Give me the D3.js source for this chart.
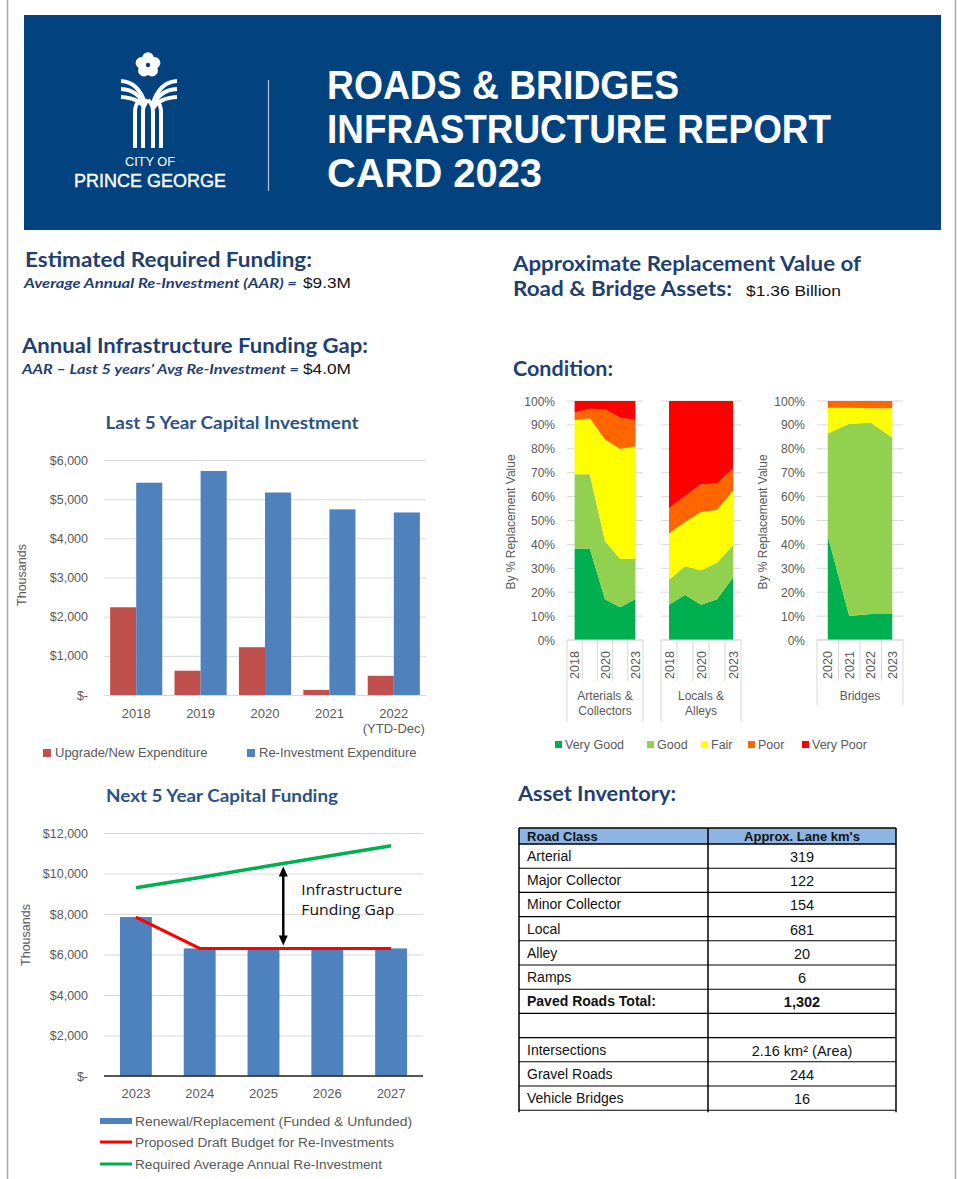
<!DOCTYPE html>
<html><head><meta charset="utf-8">
<script src="https://cdn.jsdelivr.net/npm/d3@7"></script>
<style>
body{margin:0;background:#fff;}
svg{display:block;font-family:"Liberation Sans",Arial,sans-serif;}
</style></head><body>
<svg id="page" width="957" height="1179"></svg>
<script>
// ---------- DATA ----------
const titleLines = ["ROADS & BRIDGES", "INFRASTRUCTURE REPORT", "CARD 2023"];
const logoLines = ["CITY OF", "PRINCE GEORGE"];

const capYears = ["2018", "2019", "2020", "2021", "2022"];
const capYearSub = ["", "", "", "", "(YTD-Dec)"];
const upgradeNew = [2240, 620, 1220, 130, 490];
const reInvestment = [5420, 5720, 5170, 4740, 4660];
const capTicks = [0, 1000, 2000, 3000, 4000, 5000, 6000];
const capSeries = ["Upgrade/New Expenditure", "Re-Investment Expenditure"];

const fundYears = ["2023", "2024", "2025", "2026", "2027"];
const renewal = [7850, 6300, 6300, 6300, 6300];
const draftBudget = [7850, 6300, 6300, 6300, 6300];
const requiredAAR = [9300, 9800, 10330, 10850, 11370];
const fundTicks = [0, 2000, 4000, 6000, 8000, 10000, 12000];
const fundSeries = ["Renewal/Replacement (Funded & Unfunded)", "Proposed Draft Budget for Re-Investments", "Required Average Annual Re-Investment"];
const gapLabel = ["Infrastructure", "Funding Gap"];

const condLevels = ["Very Good", "Good", "Fair", "Poor", "Very Poor"];
const pctTicks = [0, 10, 20, 30, 40, 50, 60, 70, 80, 90, 100];

const artYears = ["2018", "2019", "2020", "2021", "2023"];
const artVeryGood = [38.3, 38.3, 17.1, 13.7, 17.2];
const artGood = [31.1, 31.1, 24.3, 20.2, 16.9];
const artFair = [22.5, 23.4, 42.5, 46.0, 47.0];
const artPoor = [3.2, 4.0, 12.6, 13.1, 11.0];
const artVeryPoor = [4.9, 3.2, 3.5, 7.0, 7.9];

const locYears = ["2018", "2019", "2020", "2021", "2023"];
const locVeryGood = [14.7, 18.9, 14.7, 17.1, 26.2];
const locGood = [10.5, 12.0, 14.5, 15.2, 13.4];
const locFair = [19.4, 18.5, 24.4, 22.1, 22.8];
const locPoor = [10.5, 10.9, 11.6, 11.1, 9.4];
const locVeryPoor = [44.9, 39.7, 34.8, 34.5, 28.2];

const brYears = ["2020", "2021", "2022", "2023"];
const brVeryGood = [43.5, 10.0, 10.9, 10.9];
const brGood = [42.9, 80.5, 80.0, 73.8];
const brFair = [10.8, 6.7, 6.1, 12.3];
const brPoor = [2.8, 2.8, 3.0, 3.0];
const brVeryPoor = [0, 0, 0, 0];

const tableHeader = ["Road Class", "Approx. Lane km's"];
const roadClass = ["Arterial", "Major Collector", "Minor Collector", "Local", "Alley", "Ramps", "Paved Roads Total:", "", "Intersections", "Gravel Roads", "Vehicle Bridges"];
const laneKm = ["319", "122", "154", "681", "20", "6", "1,302", "", "2.16 km² (Area)", "244", "16"];

// ---------- STYLE ----------
const NAVY = "#02437F";
const HEAD = "#1F3F73";
const GRAY = "#595959";
const GRID = "#D9D9D9";
const condColors = ["#00B050", "#92D050", "#FFFF00", "#FF6600", "#FF0000"];
const HFONT = "Lato, 'Open Sans', sans-serif";
const NARROW = "'Liberation Sans Narrow', 'Liberation Sans', Arial, sans-serif";

const svg = d3.select("#page");

// page borders
svg.append("line").attr("x1", 7.5).attr("x2", 7.5).attr("y1", 0).attr("y2", 1179).attr("stroke", "#A6A6A6").attr("stroke-width", 1.5);
svg.append("line").attr("x1", 955.5).attr("x2", 955.5).attr("y1", 0).attr("y2", 1179).attr("stroke", "#A6A6A6").attr("stroke-width", 1.5);

// ---------- HEADER ----------
svg.append("rect").attr("x", 24).attr("y", 15).attr("width", 917).attr("height", 215).attr("fill", NAVY);
const titleBase = [99, 143, 187];
const titleW = [352, 504, 215];
titleLines.forEach((t, i) => {
  svg.append("text").attr("x", 327).attr("y", titleBase[i]).text(t)
    .attr("font-family", NARROW).attr("font-weight", "bold").attr("font-size", 41)
    .attr("fill", "#fff").attr("textLength", titleW[i]).attr("lengthAdjust", "spacingAndGlyphs");
});
svg.append("line").attr("x1", 268.5).attr("x2", 268.5).attr("y1", 80).attr("y2", 191).attr("stroke", "#B8C4D6").attr("stroke-width", 1.2);

// logo
const logo = svg.append("g").attr("fill", "#fff").attr("stroke", "none");
for (let k = 0; k < 5; k++) {
  const a = -Math.PI / 2 + k * 2 * Math.PI / 5;
  logo.append("circle").attr("cx", 148 + 6.8 * Math.cos(a)).attr("cy", 65 + 6.8 * Math.sin(a)).attr("r", 5.9);
}
logo.append("circle").attr("cx", 148).attr("cy", 65).attr("r", 2.2).attr("fill", NAVY);
const arch = svg.append("g").attr("fill", "none").attr("stroke", "#fff").attr("stroke-width", 4).attr("stroke-linecap", "butt");
[0, 1, 2].forEach(k => {
  const y0 = 81 + k * 8;
  arch.append("path").attr("d", `M${121},${y0} Q${139},${y0 + 1} ${145.5 - k * 0.5},${105 + k * 1.5}`);
  arch.append("path").attr("d", `M${177},${y0} Q${159},${y0 + 1} ${152.5 + k * 0.5},${105 + k * 1.5}`);
});
[135, 143, 153, 161].forEach((x, i) => {
  arch.append("path").attr("d", `M${x},${148} L${x},${112} Q${x},${104} ${i < 2 ? x + 5 : x - 5},${100}`).attr("stroke-width", 4);
});
svg.append("text").attr("x", 150).attr("y", 166).attr("text-anchor", "middle").text(logoLines[0])
  .attr("font-family", NARROW).attr("font-size", 12).attr("fill", "#fff").attr("textLength", 50).attr("lengthAdjust", "spacingAndGlyphs");
svg.append("text").attr("x", 150).attr("y", 187).attr("text-anchor", "middle").text(logoLines[1])
  .attr("font-family", NARROW).attr("font-size", 19).attr("fill", "#fff").attr("stroke", "#fff").attr("stroke-width", 0.4)
  .attr("textLength", 152).attr("lengthAdjust", "spacingAndGlyphs");

// ---------- HEADINGS ----------
function heading(x, y, t, w, size) {
  return svg.append("text").attr("x", x).attr("y", y).text(t)
    .attr("font-family", HFONT).attr("font-weight", "bold").attr("font-size", size || 20)
    .attr("fill", HEAD).attr("textLength", w).attr("lengthAdjust", "spacingAndGlyphs");
}
function subItalic(x, y, t, w) {
  return svg.append("text").attr("x", x).attr("y", y).text(t)
    .attr("font-family", HFONT).attr("font-weight", "bold").attr("font-style", "italic").attr("font-size", 14)
    .attr("fill", HEAD).attr("textLength", w).attr("lengthAdjust", "spacingAndGlyphs");
}
function plain(x, y, t, w, size) {
  return svg.append("text").attr("x", x).attr("y", y).text(t)
    .attr("font-family", "'Liberation Sans', Arial, sans-serif").attr("font-size", size || 14.5)
    .attr("fill", "#111").attr("textLength", w).attr("lengthAdjust", "spacingAndGlyphs");
}
heading(25, 267, "Estimated Required Funding:", 287);
subItalic(24, 288, "Average Annual Re-Investment (AAR) =", 273);
plain(303, 288, "$9.3M", 48);
heading(22, 353, "Annual Infrastructure Funding Gap:", 346);
subItalic(22, 374, "AAR – Last 5 years’ Avg Re-Investment =", 277);
plain(303, 374, "$4.0M", 48);
heading(513, 271, "Approximate Replacement Value of", 348);
heading(513, 296, "Road & Bridge Assets:", 219);
plain(746, 296, "$1.36 Billion", 95, 14);
heading(513, 376, "Condition:", 100);
heading(518, 801, "Asset Inventory:", 158);

// ---------- helpers ----------
const dollar = v => v === 0 ? "$-" : "$" + d3.format(",")(v);
function axisText(sel) {
  sel.attr("font-family", "'Liberation Sans', Arial, sans-serif").attr("font-size", 12.5).attr("fill", GRAY);
}

// ---------- CHART 1: Last 5 Year Capital Investment ----------
{
  const g = svg.append("g");
  const x = d3.scaleBand().domain(capYears).range([104, 426]).paddingInner(0.19).paddingOuter(0.095);
  const xs = d3.scaleBand().domain([0, 1]).range([0, x.bandwidth()]);
  const y = d3.scaleLinear().domain([0, 6000]).range([695, 460]);
  const ax = g.append("g").attr("transform", "translate(104,0)")
    .call(d3.axisLeft(y).tickValues(capTicks).tickSize(-322).tickPadding(16).tickFormat(dollar));
  ax.select(".domain").remove();
  ax.selectAll("line").attr("stroke", GRID);
  ax.selectAll("text").call(axisText);
  const cols = ["#C0504D", "#4F81BD"];
  [upgradeNew, reInvestment].forEach((arr, si) => {
    g.selectAll(null).data(capYears).join("rect")
      .attr("x", d => x(d) + xs(si)).attr("width", xs.bandwidth())
      .attr("y", (d, i) => y(arr[i])).attr("height", (d, i) => y(0) - y(arr[i]))
      .attr("fill", cols[si]);
  });
  g.selectAll(null).data(capYears).join("text")
    .attr("x", d => x(d) + x.bandwidth() / 2).attr("y", 718).attr("text-anchor", "middle").text(d => d)
    .call(axisText).attr("font-size", 13);
  g.selectAll(null).data(capYearSub).join("text")
    .attr("x", (d, i) => x(capYears[i]) + x.bandwidth() / 2).attr("y", 733).attr("text-anchor", "middle").text(d => d)
    .call(axisText).attr("font-size", 13);
  g.append("text").attr("transform", "translate(26,575) rotate(-90)").attr("text-anchor", "middle").text("Thousands").call(axisText);
  g.append("text").attr("x", 232).attr("y", 429).attr("text-anchor", "middle").text("Last 5 Year Capital Investment")
    .attr("font-family", HFONT).attr("font-weight", "bold").attr("font-size", 16.5).attr("fill", "#2A5286")
    .attr("textLength", 253).attr("lengthAdjust", "spacingAndGlyphs");
  const lx = [43, 247];
  capSeries.forEach((s, i) => {
    g.append("rect").attr("x", lx[i]).attr("y", 749).attr("width", 8).attr("height", 8).attr("fill", cols[i]);
    g.append("text").attr("x", lx[i] + 12).attr("y", 757).text(s).call(axisText).attr("font-size", 13);
  });
}

// ---------- CHART 2: Next 5 Year Capital Funding ----------
{
  const g = svg.append("g");
  const x = d3.scaleBand().domain(fundYears).range([104, 423]).paddingInner(0.5).paddingOuter(0.25);
  const y = d3.scaleLinear().domain([0, 12000]).range([1076, 833]);
  const ax = g.append("g").attr("transform", "translate(104,0)")
    .call(d3.axisLeft(y).tickValues(fundTicks).tickSize(-319).tickPadding(16).tickFormat(dollar));
  ax.select(".domain").remove();
  ax.selectAll("line").attr("stroke", GRID);
  ax.selectAll("text").call(axisText);
  g.selectAll(null).data(fundYears).join("rect")
    .attr("x", d => x(d)).attr("width", x.bandwidth())
    .attr("y", (d, i) => y(renewal[i])).attr("height", (d, i) => y(0) - y(renewal[i]))
    .attr("fill", "#4F81BD");
  g.append("line").attr("x1", 104).attr("x2", 423).attr("y1", y(0)).attr("y2", y(0)).attr("stroke", "#262626").attr("stroke-width", 1.5);
  const cx = (d) => x(d) + x.bandwidth() / 2;
  const line = d3.line().x((d, i) => cx(fundYears[i])).y(d => y(d));
  g.append("path").attr("d", line(draftBudget)).attr("fill", "none").attr("stroke", "#FF0000").attr("stroke-width", 3);
  g.append("path").attr("d", line(requiredAAR)).attr("fill", "none").attr("stroke", "#00B050").attr("stroke-width", 3.5);
  g.selectAll(null).data(fundYears).join("text")
    .attr("x", d => cx(d)).attr("y", 1098).attr("text-anchor", "middle").text(d => d)
    .call(axisText).attr("font-size", 13);
  g.append("text").attr("transform", "translate(30,935) rotate(-90)").attr("text-anchor", "middle").text("Thousands").call(axisText);
  g.append("text").attr("x", 222).attr("y", 802).attr("text-anchor", "middle").text("Next 5 Year Capital Funding")
    .attr("font-family", HFONT).attr("font-weight", "bold").attr("font-size", 16.5).attr("fill", "#2A5286")
    .attr("textLength", 232).attr("lengthAdjust", "spacingAndGlyphs");
  // gap arrow
  const step = x.step();
  const ax2 = cx("2025") + 0.31 * step;
  const topV = requiredAAR[2] + (requiredAAR[3] - requiredAAR[2]) * 0.31;
  const yt = y(topV) + 3, yb = y(draftBudget[2]) - 3;
  g.append("line").attr("x1", ax2).attr("x2", ax2).attr("y1", yt + 8).attr("y2", yb - 8).attr("stroke", "#000").attr("stroke-width", 2.5);
  g.append("path").attr("d", `M${ax2},${yt} L${ax2 - 4.5},${yt + 10} L${ax2 + 4.5},${yt + 10}Z`).attr("fill", "#000");
  g.append("path").attr("d", `M${ax2},${yb} L${ax2 - 4.5},${yb - 10} L${ax2 + 4.5},${yb - 10}Z`).attr("fill", "#000");
  gapLabel.forEach((t, i) => {
    g.append("text").attr("x", ax2 + 18).attr("y", 895 + i * 20).text(t)
      .attr("font-family", "'Open Sans', 'Liberation Sans', sans-serif").attr("font-size", 15).attr("fill", "#111")
      .attr("textLength", i === 0 ? 101 : 93).attr("lengthAdjust", "spacingAndGlyphs");
  });
  // legend
  const ly = [1121, 1142, 1164];
  g.append("rect").attr("x", 100).attr("y", 1118).attr("width", 32).attr("height", 6).attr("fill", "#4F81BD");
  g.append("line").attr("x1", 100).attr("x2", 132).attr("y1", ly[1]).attr("y2", ly[1]).attr("stroke", "#FF0000").attr("stroke-width", 3);
  g.append("line").attr("x1", 100).attr("x2", 132).attr("y1", ly[2]).attr("y2", ly[2]).attr("stroke", "#00B050").attr("stroke-width", 3);
  const lw = [277, 259, 247];
  fundSeries.forEach((s, i) => {
    g.append("text").attr("x", 135).attr("y", ly[i] + 5).text(s).call(axisText).attr("font-size", 12.5)
      .attr("textLength", lw[i]).attr("lengthAdjust", "spacingAndGlyphs");
  });
}

// ---------- CONDITION CHARTS ----------
const yC = d3.scaleLinear().domain([0, 100]).range([640, 401]);
function condPanel(cats, series, range, labelIdx, groupLabel, outerBottom, yLabelX) {
  const g = svg.append("g");
  const x = d3.scaleBand().domain(cats).range(range);
  const bw = x.bandwidth();
  g.selectAll(null).data(pctTicks).join("line")
    .attr("x1", range[0]).attr("x2", range[1]).attr("y1", d => yC(d)).attr("y2", d => yC(d)).attr("stroke", GRID);
  if (yLabelX) {
    g.selectAll(null).data(pctTicks).join("text")
      .attr("x", yLabelX).attr("y", d => yC(d) + 4.5).attr("text-anchor", "end").text(d => d + "%")
      .call(axisText).attr("font-size", 12);
  }
  const rows = cats.map((c, i) => {
    const r = { cat: c };
    condLevels.forEach((k, j) => r[k] = series[j][i]);
    return r;
  });
  const stacked = d3.stack().keys(condLevels)(rows);
  const area = d3.area().x(d => x(d.data.cat) + bw / 2).y0(d => yC(d[0])).y1(d => yC(d[1]));
  g.selectAll(null).data(stacked).join("path").attr("d", area).attr("fill", (d, i) => condColors[i]);
  const bounds = cats.map(c => x(c)).concat([range[1]]);
  g.selectAll(null).data(bounds).join("line")
    .attr("x1", d => d).attr("x2", d => d).attr("y1", 640)
    .attr("y2", (d, i) => (i === 0 || i === bounds.length - 1) ? outerBottom : 681)
    .attr("stroke", GRID);
  g.append("line").attr("x1", range[0]).attr("x2", range[1]).attr("y1", 640).attr("y2", 640).attr("stroke", GRID);
  g.selectAll(null).data(cats.filter((c, i) => labelIdx.includes(i))).join("text")
    .attr("transform", d => `translate(${x(d) + bw / 2},665) rotate(-90)`).attr("dy", "0.36em")
    .attr("text-anchor", "middle").text(d => d).call(axisText).attr("font-size", 12.5);
  groupLabel.forEach((t, i) => {
    g.append("text").attr("x", (range[0] + range[1]) / 2).attr("y", 700 + i * 15).attr("text-anchor", "middle")
      .text(t).call(axisText).attr("font-size", 12);
  });
}
condPanel(artYears, [artVeryGood, artGood, artFair, artPoor, artVeryPoor], [567, 643], [0, 2, 4], ["Arterials &", "Collectors"], 722, 555);
condPanel(locYears, [locVeryGood, locGood, locFair, locPoor, locVeryPoor], [661, 741], [0, 2, 4], ["Locals &", "Alleys"], 722, null);
condPanel(brYears, [brVeryGood, brGood, brFair, brPoor, brVeryPoor], [817, 903], [0, 1, 2, 3], ["Bridges"], 705, 805);
[515, 767].forEach(xx => {
  svg.append("text").attr("transform", `translate(${xx},522) rotate(-90)`).attr("text-anchor", "middle")
    .text("By % Replacement Value").call(axisText).attr("font-size", 12);
});
{
  const lx = [555, 647, 701, 748, 802];
  condLevels.forEach((k, i) => {
    svg.append("rect").attr("x", lx[i]).attr("y", 741).attr("width", 7).attr("height", 7).attr("fill", condColors[i]);
    svg.append("text").attr("x", lx[i] + 10).attr("y", 749).text(k).call(axisText).attr("font-size", 12.5);
  });
}

// ---------- TABLE ----------
{
  const g = svg.append("g");
  const left = 519, mid = 708, right = 896, top = 828, headH = 16, rowH = 24.2;
  g.append("rect").attr("x", left).attr("y", top).attr("width", right - left).attr("height", headH).attr("fill", "#8DB4E2");
  const rowY = i => top + headH + i * rowH;
  const bottom = rowY(roadClass.length);
  g.append("text").attr("x", left + 8).attr("y", top + 12.5).text(tableHeader[0]).attr("font-weight", "bold").attr("font-size", 13).attr("fill", "#111");
  g.append("text").attr("x", (mid + right) / 2).attr("y", top + 12.5).attr("text-anchor", "middle").text(tableHeader[1]).attr("font-weight", "bold").attr("font-size", 13).attr("fill", "#111");
  g.selectAll(null).data(roadClass).join("text")
    .attr("x", left + 8).attr("y", (d, i) => rowY(i) + 17).text(d => d)
    .attr("font-size", 14).attr("fill", "#111").attr("font-weight", (d, i) => i === 6 ? "bold" : null);
  g.selectAll(null).data(laneKm).join("text")
    .attr("x", (mid + right) / 2).attr("y", (d, i) => rowY(i) + 18).attr("text-anchor", "middle").text(d => d)
    .attr("font-size", 14.5).attr("fill", "#111").attr("font-weight", (d, i) => i === 6 ? "bold" : null);
  const hl = [top, top + headH].concat(roadClass.map((d, i) => rowY(i + 1)));
  g.selectAll(null).data(hl).join("line").attr("x1", left).attr("x2", right).attr("y1", d => d).attr("y2", d => d)
    .attr("stroke", "#000").attr("stroke-width", (d, i) => i < 2 ? 1.5 : 1.1);
  [left, mid, right].forEach(xx => {
    g.append("line").attr("x1", xx).attr("x2", xx).attr("y1", top).attr("y2", bottom + 2).attr("stroke", "#000").attr("stroke-width", 1.5);
  });
}
</script>
</body></html>
